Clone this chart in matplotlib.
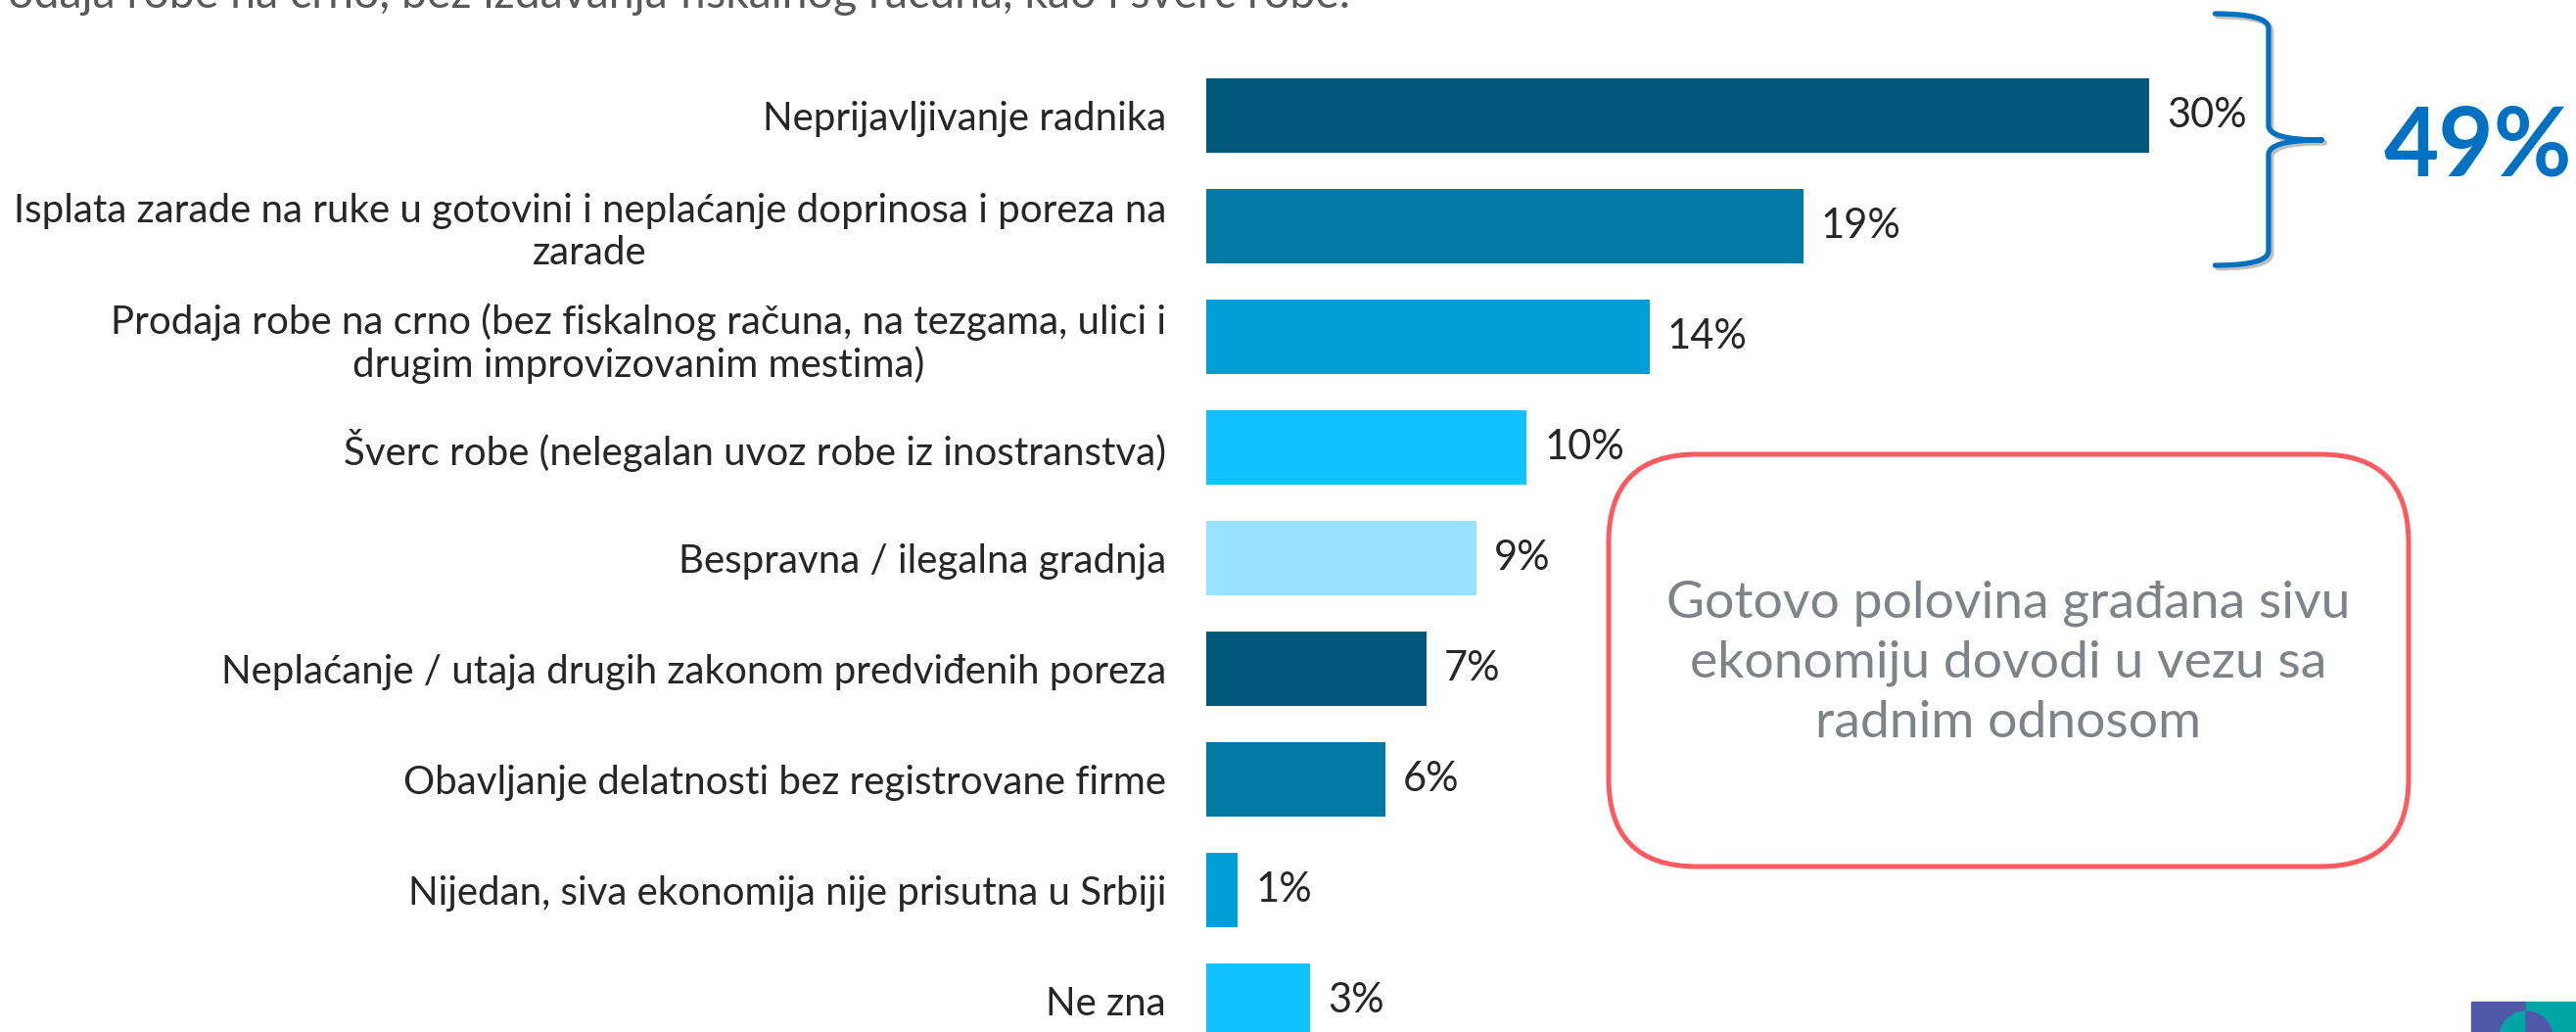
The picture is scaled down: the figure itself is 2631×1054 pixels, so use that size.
import matplotlib
matplotlib.use('Agg')
import matplotlib.pyplot as plt
import matplotlib.patheffects as pe
from matplotlib.path import Path
from matplotlib.patches import PathPatch, FancyBboxPatch, Rectangle, Wedge
from matplotlib.transforms import Affine2D

# data
categories = [
    'Neprijavljivanje radnika',
    'Isplata zarade na ruke u gotovini i neplaćanje doprinosa i poreza na\nzarade',
    'Prodaja robe na crno (bez fiskalnog računa, na tezgama, ulici i\ndrugim improvizovanim mestima)',
    'Šverc robe (nelegalan uvoz robe iz inostranstva)',
    'Bespravna / ilegalna gradnja',
    'Neplaćanje / utaja drugih zakonom predviđenih poreza',
    'Obavljanje delatnosti bez registrovane firme',
    'Nijedan, siva ekonomija nije prisutna u Srbiji',
    'Ne zna',
]
values = [30, 19, 14.1, 10.2, 8.6, 7.0, 5.7, 1.0, 3.3]
palette = ['#02587A', '#0079A5', '#009ED6', '#10C2FF', '#99E2FF']
total_label = '49%'
box_text = 'Gotovo polovina građana sivu\nekonomiju dovodi u vezu sa\nradnim odnosom'
top_text = 'odaja robe na crno, bez izdavanja fiskalnog računa, kao i šverc robe.'

W, H = 2631, 1054
plt.rcParams['font.family'] = ['Lato', 'DejaVu Sans']

fig = plt.figure(figsize=(W / 100, H / 100), dpi=100)
# pixel transform (origin top-left) for the decorations
px = Affine2D().scale(1 / W, -1 / H).translate(0, 1) + fig.transFigure

x0 = 1232          # bar baseline in pixels
per_unit = 32.1    # pixels per percent
row = 113          # pixels per row
first = 118        # centre of first bar

ax = fig.add_axes([x0 / W, 0, (W - x0) / W, 1])
ax.set_xlim(0, (W - x0) / per_unit)
ax.set_ylim((H - first) / row, -first / row)

ypos = list(range(len(values)))
colors = [palette[i % len(palette)] for i in ypos]
ax.barh(ypos, values, height=76 / row, color=colors)

for y, v in zip(ypos, values):
    ax.text(v + 18 / per_unit, y, f'{v:.0f}%', va='center', ha='left',
            fontsize=30, color='#262626')

ax.set_yticks(ypos)
ax.set_yticklabels(categories, fontsize=29, color='#262626')
for lab in ax.get_yticklabels():
    lab.set_multialignment('center')
    lab.set_linespacing(1.2)
ax.tick_params(left=False, bottom=False, labelbottom=False, pad=26)
for s in ax.spines.values():
    s.set_visible(False)

# curly brace grouping the first two bars
bx, tail, tip = values[0] + 3.8, values[0] + 2.1, values[0] + 5.5
yt, yb, ym = -0.92, 1.354, 0.221
r = 0.13
verts = [(tail, yt), (bx, yt), (bx, yt + r),
         (bx, ym - r), (bx, ym), (tip, ym),
         (bx, ym), (bx, ym + r),
         (bx, yb - r), (bx, yb), (tail, yb)]
codes = [Path.MOVETO, Path.CURVE3, Path.CURVE3,
         Path.LINETO, Path.CURVE3, Path.CURVE3,
         Path.CURVE3, Path.CURVE3,
         Path.LINETO, Path.CURVE3, Path.CURVE3]
brace = PathPatch(Path(verts, codes), fill=False, edgecolor='#0070C0', lw=3.8,
                  capstyle='round', joinstyle='round', clip_on=False,
                  path_effects=[pe.SimpleLineShadow(offset=(2, -2), alpha=0.25),
                                pe.Normal()])
ax.add_patch(brace)

fig.text(2531, 180, total_label, transform=px, ha='center', va='baseline',
         fontsize=70, fontweight='bold', color='#0070C0')

# rounded note box
box = FancyBboxPatch((1643, 464), 817, 421, boxstyle='round,pad=0,rounding_size=90',
                     transform=px, facecolor='white', edgecolor='#FF5A5F', lw=3.6)
fig.patches.append(box)
fig.text(2051, 677, box_text, transform=px, ha='center', va='center',
         multialignment='center', fontsize=38.5, color='#7F8388', linespacing=1.36)

# cut-off sentence at the top
fig.text(8, 8, top_text, transform=px, ha='left', va='baseline',
         fontsize=33.5, color='#595959')

# corner logo
fig.patches.append(Rectangle((2524, 1023), 56, 40, transform=px, color='#5059A8'))
fig.patches.append(Rectangle((2580, 1023), 60, 40, transform=px, color='#00A6A6'))
fig.patches.append(Wedge((2580, 1060), 27, 90, 270, transform=px, color='#00A6A6'))
fig.patches.append(Wedge((2580, 1060), 27, -90, 90, transform=px, color='#5059A8'))

fig.savefig('out.png', dpi=100)
